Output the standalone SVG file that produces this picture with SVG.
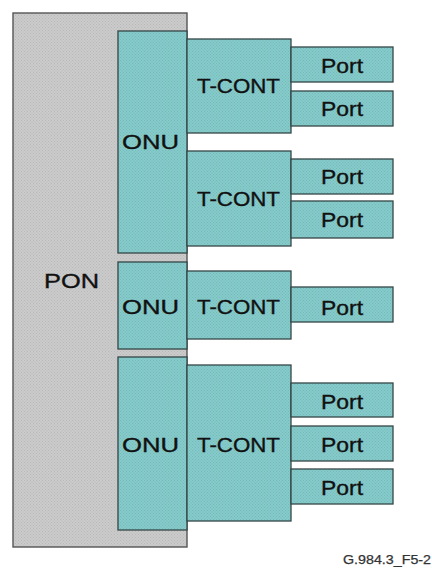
<svg xmlns="http://www.w3.org/2000/svg" width="432" height="568" viewBox="0 0 432 568">
  <defs>
    <pattern id="grayDots" width="3" height="3" patternUnits="userSpaceOnUse">
      <rect width="3" height="3" fill="#cbcbcb"/>
      <rect x="0" y="0" width="1" height="1" fill="#b8b8b8"/>
      <rect x="1.5" y="1.5" width="1" height="1" fill="#b8b8b8"/>
    </pattern>
    <pattern id="tealDots" width="3" height="3" patternUnits="userSpaceOnUse">
      <rect width="3" height="3" fill="#86caca"/>
      <rect x="0" y="0" width="1" height="1" fill="#74baba"/>
      <rect x="1.5" y="1.5" width="1" height="1" fill="#74baba"/>
    </pattern>
  </defs>
  <style>
    .pon { fill: url(#grayDots); stroke: #555555; stroke-width: 1.4; }
    .box { fill: url(#tealDots); stroke: #354545; stroke-width: 1.3; }
    .lbl { font-family: "Liberation Sans", Arial, sans-serif; font-size: 20px; fill: #111111; stroke: #111111; stroke-width: 0.35; }
    .foot { font-family: "Liberation Sans", Arial, sans-serif; font-size: 12.5px; fill: #333333; stroke: #333333; stroke-width: 0.25; }
  </style>

  <g id="pon">
    <rect class="pon" x="13" y="13" width="174" height="534"/>
    <text class="lbl" x="44" y="288" textLength="55" lengthAdjust="spacingAndGlyphs">PON</text>
  </g>

  <g id="onu1">
    <rect class="box" x="118" y="31" width="69" height="222"/>
    <text class="lbl" x="122" y="149" textLength="57" lengthAdjust="spacingAndGlyphs">ONU</text>
  </g>
  <g id="onu2">
    <rect class="box" x="118" y="262" width="69" height="87"/>
    <text class="lbl" x="122" y="314" textLength="57" lengthAdjust="spacingAndGlyphs">ONU</text>
  </g>
  <g id="onu3">
    <rect class="box" x="118" y="357" width="69" height="173"/>
    <text class="lbl" x="122" y="452" textLength="57" lengthAdjust="spacingAndGlyphs">ONU</text>
  </g>

  <g id="tcont1">
    <rect class="box" x="187" y="39" width="104" height="94"/>
    <text class="lbl" x="197" y="93" textLength="83" lengthAdjust="spacingAndGlyphs">T-CONT</text>
  </g>
  <g id="tcont2">
    <rect class="box" x="187" y="151" width="104" height="95"/>
    <text class="lbl" x="197" y="206" textLength="83" lengthAdjust="spacingAndGlyphs">T-CONT</text>
  </g>
  <g id="tcont3">
    <rect class="box" x="187" y="271" width="104" height="68"/>
    <text class="lbl" x="197" y="314" textLength="83" lengthAdjust="spacingAndGlyphs">T-CONT</text>
  </g>
  <g id="tcont4">
    <rect class="box" x="187" y="365" width="104" height="156"/>
    <text class="lbl" x="197" y="452" textLength="83" lengthAdjust="spacingAndGlyphs">T-CONT</text>
  </g>

  <g id="port1">
    <rect class="box" x="291" y="47" width="102" height="35"/>
    <text class="lbl" x="321" y="73" textLength="42" lengthAdjust="spacingAndGlyphs">Port</text>
  </g>
  <g id="port2">
    <rect class="box" x="291" y="91" width="102" height="35"/>
    <text class="lbl" x="321" y="116" textLength="42" lengthAdjust="spacingAndGlyphs">Port</text>
  </g>
  <g id="port3">
    <rect class="box" x="291" y="159" width="102" height="35"/>
    <text class="lbl" x="321" y="184" textLength="42" lengthAdjust="spacingAndGlyphs">Port</text>
  </g>
  <g id="port4">
    <rect class="box" x="291" y="201" width="102" height="37"/>
    <text class="lbl" x="321" y="227" textLength="42" lengthAdjust="spacingAndGlyphs">Port</text>
  </g>
  <g id="port5">
    <rect class="box" x="291" y="287" width="102" height="35"/>
    <text class="lbl" x="321" y="315" textLength="42" lengthAdjust="spacingAndGlyphs">Port</text>
  </g>
  <g id="port6">
    <rect class="box" x="291" y="383" width="102" height="34"/>
    <text class="lbl" x="321" y="409" textLength="42" lengthAdjust="spacingAndGlyphs">Port</text>
  </g>
  <g id="port7">
    <rect class="box" x="291" y="426" width="102" height="35"/>
    <text class="lbl" x="321" y="452" textLength="42" lengthAdjust="spacingAndGlyphs">Port</text>
  </g>
  <g id="port8">
    <rect class="box" x="291" y="469" width="102" height="35"/>
    <text class="lbl" x="321" y="495" textLength="42" lengthAdjust="spacingAndGlyphs">Port</text>
  </g>

  <g id="connectors"></g>

  <text class="foot" x="343" y="564" textLength="88" lengthAdjust="spacingAndGlyphs">G.984.3_F5-2</text>
</svg>
